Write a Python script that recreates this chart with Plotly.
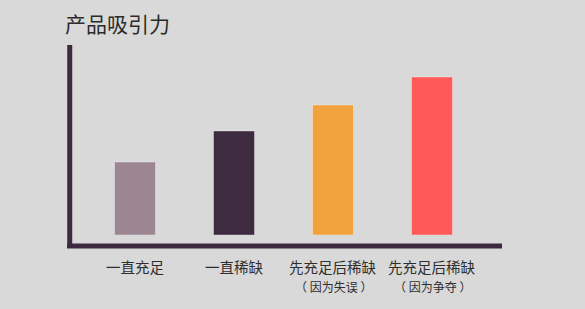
import plotly.graph_objects as go

categories = ["一直充足", "一直稀缺", "先充足后稀缺", "先充足后稀缺"]
sublabels = ["", "", "（ 因为失误 ）", "（ 因为争夺 ）"]
values = [73, 104, 130, 158]
colors = ["#9b8692", "#3f2b3f", "#f2a23d", "#ff5a5a"]
title = "产品吸引力"

xs = list(range(len(values)))
FONT = "Noto Sans CJK SC, Noto Sans, sans-serif"
axis_color = "#3e2a3e"

fig = go.Figure()
fig.add_trace(go.Bar(
    x=xs, y=values, width=0.414,
    marker=dict(color=colors, line=dict(color="rgba(255,255,255,0.35)", width=1)),
    hoverinfo="skip",
))

for i, (c, s) in enumerate(zip(categories, sublabels)):
    fig.add_annotation(x=i, y=-0.168, xref="x", yref="paper", text=c,
                       showarrow=False, yanchor="middle", xanchor="center",
                       font=dict(family=FONT, size=14.5, color="#2e2e2e"))
    if s:
        fig.add_annotation(x=i, y=-0.270, xref="x", yref="paper", text=s,
                           showarrow=False, yanchor="middle", xanchor="center",
                           font=dict(family=FONT, size=12, color="#2e2e2e"))

fig.add_annotation(x=-0.012, y=1.116, xref="paper", yref="paper", text=title,
                   showarrow=False, xanchor="left", yanchor="middle",
                   font=dict(family=FONT, size=21, color="#2b2b2b"))

# axis lines
fig.add_shape(type="line", xref="paper", yref="paper",
              x0=0.004, x1=0.004, y0=1.0, y1=-0.068,
              line=dict(color=axis_color, width=5))
fig.add_shape(type="line", xref="paper", yref="paper",
              x0=-0.002, x1=1.0, y0=-0.058, y1=-0.058,
              line=dict(color=axis_color, width=5))

fig.update_layout(
    width=585, height=309,
    margin=dict(l=68, r=83, t=45, b=74),
    paper_bgcolor="#d9d9d9", plot_bgcolor="#d9d9d9",
    showlegend=False,
    xaxis=dict(range=[-0.677, 3.707], showticklabels=False, showgrid=False,
               zeroline=False, showline=False),
    yaxis=dict(range=[0, 190], showticklabels=False, showgrid=False,
               zeroline=False, showline=False),
)

fig.write_html("out.html")
